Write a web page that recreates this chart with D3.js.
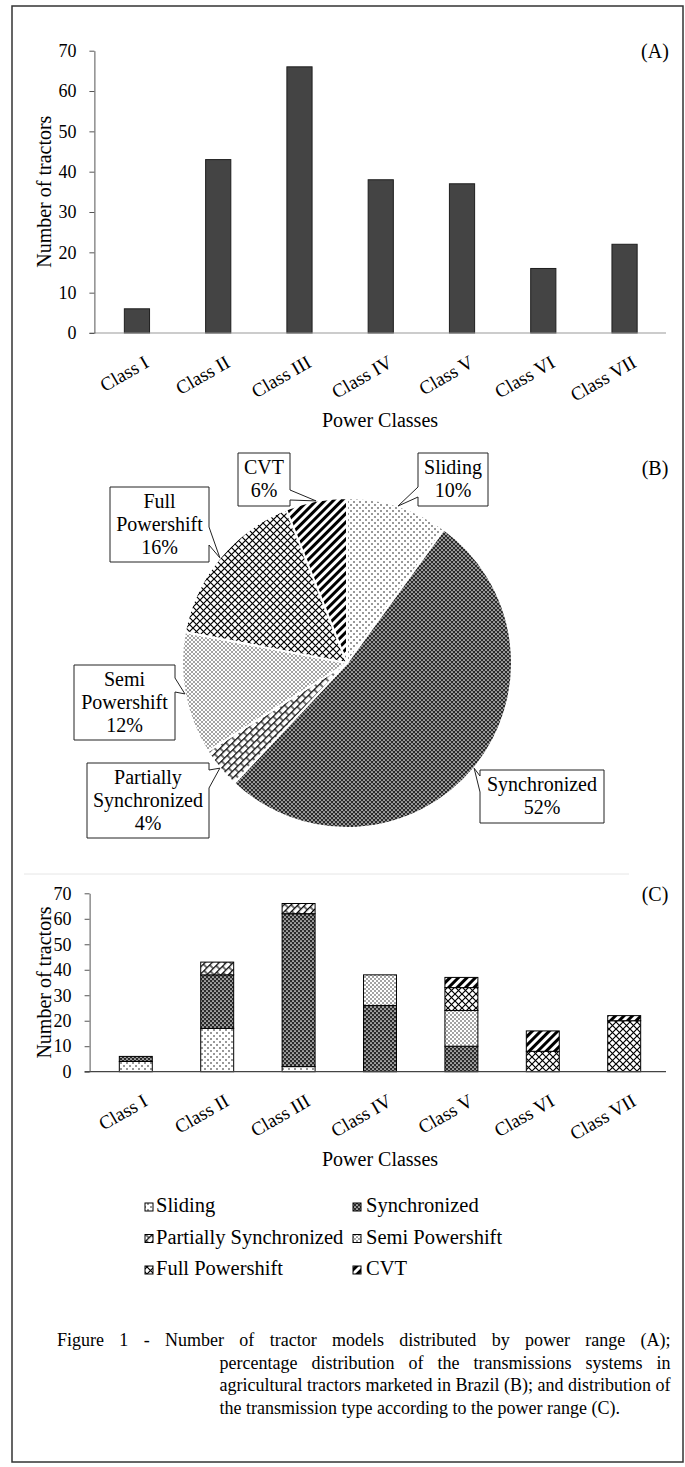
<!DOCTYPE html>
<html>
<head>
<meta charset="utf-8">
<script src="https://cdn.jsdelivr.net/npm/d3@7"></script>
<style>
  body { margin: 0; background: #fff; }
  text { font-family: "Liberation Serif", "Times New Roman", serif; fill: #000; }
</style>
</head>
<body>
<svg id="fig" width="685" height="1467"></svg>
<script>
// ---- data ----
var classes = ["Class I", "Class II", "Class III", "Class IV", "Class V", "Class VI", "Class VII"];
var totals = [6, 43, 66, 38, 37, 16, 22];
var yTicks = [0, 10, 20, 30, 40, 50, 60, 70];

var transmissions = ["Sliding", "Synchronized", "Partially Synchronized", "Semi Powershift", "Full Powershift", "CVT"];
var shares = [10, 52, 4, 12, 16, 6];

// stacked counts per class (panel C), bottom to top in the order of transmissions
var sliding = [4, 17, 2, 0, 0, 0, 0];
var synchronized = [2, 21, 60, 26, 10, 0, 0];
var partiallySync = [0, 5, 4, 0, 0, 0, 0];
var semiPowershift = [0, 0, 0, 12, 14, 0, 0];
var fullPowershift = [0, 0, 0, 0, 9, 8, 20];
var cvt = [0, 0, 0, 0, 4, 8, 2];

var captionLines = [
  "Figure 1 - Number of tractor models distributed by power range (A);",
  "percentage distribution of the transmissions systems in",
  "agricultural tractors marketed in Brazil (B); and distribution of",
  "the transmission type according to the power range (C)."
];

var svg = d3.select("#fig");
svg.append("rect").attr("width", 685).attr("height", 1467).attr("fill", "#fff");

// ---- fill patterns ----
var defs = svg.append("defs");
function pattern(id, w, h, bg, transform) {
  var p = defs.append("pattern").attr("id", id)
    .attr("patternUnits", "userSpaceOnUse")
    .attr("width", w).attr("height", h);
  if (transform) p.attr("patternTransform", transform);
  p.append("rect").attr("width", w).attr("height", h).attr("fill", bg);
  return p;
}
var p;
p = pattern("pSliding", 6, 6, "#fff");
p.append("circle").attr("cx", 1).attr("cy", 1).attr("r", 0.75).attr("fill", "#000");
p.append("circle").attr("cx", 4).attr("cy", 4).attr("r", 0.75).attr("fill", "#000");

p = pattern("pSync", 4, 4, "#2a2a2a");
p.append("circle").attr("cx", 1).attr("cy", 1).attr("r", 0.85).attr("fill", "#fff");
p.append("circle").attr("cx", 3).attr("cy", 3).attr("r", 0.85).attr("fill", "#fff");

p = pattern("pPartial", 8, 10, "#fff", "rotate(-45)");
p.append("path").attr("d", "M0,0.6H8M0,5.6H8M2,0V5M6,5V10")
  .attr("stroke", "#000").attr("stroke-width", 1.1).attr("fill", "none");

p = pattern("pSemi", 4, 4, "#fff");
p.append("circle").attr("cx", 1).attr("cy", 1).attr("r", 0.7).attr("fill", "#000");
p.append("circle").attr("cx", 3).attr("cy", 3).attr("r", 0.7).attr("fill", "#000");

p = pattern("pFull", 7, 7, "#fff");
p.append("path").attr("d", "M0,0L7,7M7,0L0,7")
  .attr("stroke", "#000").attr("stroke-width", 1.2);

p = pattern("pCvt", 6, 6, "#fff", "rotate(45)");
p.append("rect").attr("width", 3).attr("height", 6).attr("fill", "#000");

var fillOf = d3.scaleOrdinal()
  .domain(transmissions)
  .range(["pSliding", "pSync", "pPartial", "pSemi", "pFull", "pCvt"]);

// outer frame
svg.append("rect").attr("x", 12).attr("y", 6).attr("width", 671).attr("height", 1456)
  .attr("fill", "none").attr("stroke", "#333").attr("stroke-width", 1.5);

function styleYAxis(ax) {
  ax.select(".domain").attr("stroke", "#555");
  ax.selectAll(".tick line").attr("stroke", "#555");
  ax.selectAll(".tick text").style("font-size", "18px");
}
function styleXAxis(ax) {
  ax.select(".domain").remove();
  ax.selectAll(".tick text")
    .attr("y", null).attr("dy", null)
    .attr("transform", "translate(13,33) rotate(-30)")
    .style("text-anchor", "end")
    .style("font-size", "19px");
}

// ================= (A) =================
var xA = d3.scaleBand().domain(classes).range([95.5, 666]).paddingInner(0.69).paddingOuter(0.355);
var yA = d3.scaleLinear().domain([0, 70]).range([333, 50.7]);
var gA = svg.append("g");

gA.selectAll("rect.bar")
  .data(totals)
  .enter()
  .append("rect")
  .attr("class", "bar")
  .attr("x", function (d, i) { return xA(classes[i]); })
  .attr("y", function (d) { return yA(d); })
  .attr("width", xA.bandwidth())
  .attr("height", function (d) { return yA(0) - yA(d); })
  .attr("fill", "#444")
  .attr("stroke", "#1e1e1e")
  .attr("stroke-width", 1);

gA.append("line").attr("x1", 89.4).attr("x2", 666).attr("y1", yA(0)).attr("y2", yA(0))
  .attr("stroke", "#999").attr("stroke-width", 1.2);

var axAy = gA.append("g").attr("transform", "translate(94.4,0)")
  .call(d3.axisLeft(yA).tickValues(yTicks).tickSize(5).tickSizeOuter(0).tickPadding(13));
styleYAxis(axAy);

var axAx = gA.append("g").attr("transform", "translate(0," + yA(0) + ")")
  .call(d3.axisBottom(xA).tickSize(0));
styleXAxis(axAx);

gA.append("text").attr("transform", "translate(51,191.7) rotate(-90)")
  .attr("text-anchor", "middle").style("font-size", "20px").text("Number of tractors");
gA.append("text").attr("x", 380).attr("y", 427).attr("text-anchor", "middle")
  .style("font-size", "20px").text("Power Classes");
gA.append("text").attr("x", 655).attr("y", 58).attr("text-anchor", "middle")
  .style("font-size", "20px").text("(A)");

// ================= (B) =================
var cx = 347, cy = 663, R = 165;
var pieData = d3.pie().sort(null).value(function (d) { return d; })(shares);
var arc = d3.arc().innerRadius(0).outerRadius(R);
var gB = svg.append("g");
gB.append("g").attr("transform", "translate(" + cx + "," + cy + ")")
  .selectAll("path")
  .data(pieData)
  .enter()
  .append("path")
  .attr("d", arc)
  .attr("fill", function (d, i) { return "url(#" + fillOf(transmissions[i]) + ")"; })
  .attr("stroke", "#fff")
  .attr("stroke-width", 2);

// callout boxes (layout only), same order as transmissions
var boxes = [
  { x0: 418, y0: 453, x1: 488, y1: 506, side: "left", b: [487, 497] },
  { x0: 480, y0: 770, x1: 604, y1: 823, side: "left", b: [776, 792] },
  { x0: 87, y0: 763, x1: 209, y1: 838, side: "right", b: [770, 788] },
  { x0: 74, y0: 665, x1: 175, y1: 740, side: "right", b: [678, 692] },
  { x0: 110, y0: 487, x1: 209, y1: 562, side: "right", b: [527, 545] },
  { x0: 238, y0: 453, x1: 290, y1: 506, side: "right", b: [490, 500] }
];

function calloutPath(bx, tx, ty) {
  var a = bx.b[0], c = bx.b[1];
  if (bx.side === "right") {
    return "M" + bx.x0 + "," + bx.y0 + "H" + bx.x1 + "V" + a + "L" + tx + "," + ty +
      "L" + bx.x1 + "," + c + "V" + bx.y1 + "H" + bx.x0 + "Z";
  }
  return "M" + bx.x0 + "," + bx.y0 + "H" + bx.x1 + "V" + bx.y1 + "H" + bx.x0 +
    "V" + c + "L" + tx + "," + ty + "L" + bx.x0 + "," + a + "Z";
}

pieData.forEach(function (d, i) {
  var mid = (d.startAngle + d.endAngle) / 2;
  var tx = cx + R * Math.sin(mid), ty = cy - R * Math.cos(mid);
  var bx = boxes[i];
  gB.append("path").attr("d", calloutPath(bx, tx, ty))
    .attr("fill", "#fff").attr("stroke", "#222").attr("stroke-width", 1);
  var lines = transmissions[i].split(" ").concat([shares[i] + "%"]);
  var h = bx.y1 - bx.y0;
  var first = bx.y0 + (h - lines.length * 23) / 2 + 17.5;
  lines.forEach(function (s, k) {
    gB.append("text").attr("x", (bx.x0 + bx.x1) / 2).attr("y", first + k * 23)
      .attr("text-anchor", "middle").style("font-size", "20px").text(s);
  });
});

gB.append("text").attr("x", 655).attr("y", 475).attr("text-anchor", "middle")
  .style("font-size", "20px").text("(B)");

// ================= (C) =================
var rows = classes.map(function (c, i) {
  return {
    cls: c,
    "Sliding": sliding[i],
    "Synchronized": synchronized[i],
    "Partially Synchronized": partiallySync[i],
    "Semi Powershift": semiPowershift[i],
    "Full Powershift": fullPowershift[i],
    "CVT": cvt[i]
  };
});
var stacked = d3.stack().keys(transmissions)(rows);

var xC = d3.scaleBand().domain(classes).range([94, 666]).paddingInner(0.595).paddingOuter(0.311);
var yC = d3.scaleLinear().domain([0, 70]).range([1071.7, 893.3]);
var gC = svg.append("g");

// faint chart-area edge
gC.append("line").attr("x1", 24).attr("x2", 629).attr("y1", 874).attr("y2", 874)
  .attr("stroke", "#e6e6e6").attr("stroke-width", 1);

gC.selectAll("g.layer")
  .data(stacked)
  .enter()
  .append("g")
  .attr("class", "layer")
  .attr("fill", function (d) { return "url(#" + fillOf(d.key) + ")"; })
  .selectAll("rect")
  .data(function (d) { return d.filter(function (s) { return s[1] > s[0]; }); })
  .enter()
  .append("rect")
  .attr("x", function (s) { return xC(s.data.cls); })
  .attr("y", function (s) { return yC(s[1]); })
  .attr("width", xC.bandwidth())
  .attr("height", function (s) { return yC(s[0]) - yC(s[1]); })
  .attr("stroke", "#000")
  .attr("stroke-width", 1);

gC.append("line").attr("x1", 84.6).attr("x2", 666).attr("y1", yC(0)).attr("y2", yC(0))
  .attr("stroke", "#444").attr("stroke-width", 1.2);

var axCy = gC.append("g").attr("transform", "translate(89.6,0)")
  .call(d3.axisLeft(yC).tickValues(yTicks).tickSize(5).tickSizeOuter(0).tickPadding(13));
styleYAxis(axCy);

var axCx = gC.append("g").attr("transform", "translate(0," + yC(0) + ")")
  .call(d3.axisBottom(xC).tickSize(0));
styleXAxis(axCx);

gC.append("text").attr("transform", "translate(51,982.5) rotate(-90)")
  .attr("text-anchor", "middle").style("font-size", "20px").text("Number of tractors");
gC.append("text").attr("x", 380).attr("y", 1166).attr("text-anchor", "middle")
  .style("font-size", "20px").text("Power Classes");
gC.append("text").attr("x", 655).attr("y", 901).attr("text-anchor", "middle")
  .style("font-size", "20px").text("(C)");

// legend
var legendCols = [{ box: 145, txt: 156 }, { box: 353, txt: 366 }];
transmissions.forEach(function (t, i) {
  var col = legendCols[i % 2];
  var y = 1212 + Math.floor(i / 2) * 31.5;
  gC.append("rect").attr("x", col.box).attr("y", y - 9).attr("width", 8).attr("height", 8)
    .attr("fill", "url(#" + fillOf(t) + ")").attr("stroke", "#000").attr("stroke-width", 1);
  gC.append("text").attr("x", col.txt).attr("y", y).style("font-size", "20.5px").text(t);
});

// ================= caption =================
// first line runs the full width, the rest hang under the text
var gT = svg.append("g");
captionLines.forEach(function (line, li) {
  var y = 1346 + li * 22.6;
  var x0 = li === 0 ? 57 : 219.5, x1 = 670.6;
  var words = line.split(" ");
  var nodes = words.map(function (w) {
    return gT.append("text").attr("y", y).style("font-size", "18px").text(w);
  });
  var widths = nodes.map(function (n) { return n.node().getComputedTextLength(); });
  var justify = li < captionLines.length - 1;
  var gap = justify ? (x1 - x0 - d3.sum(widths)) / (words.length - 1) : 4.5;
  var x = x0;
  nodes.forEach(function (n, k) {
    n.attr("x", x);
    x += widths[k] + gap;
  });
});
</script>
</body>
</html>
